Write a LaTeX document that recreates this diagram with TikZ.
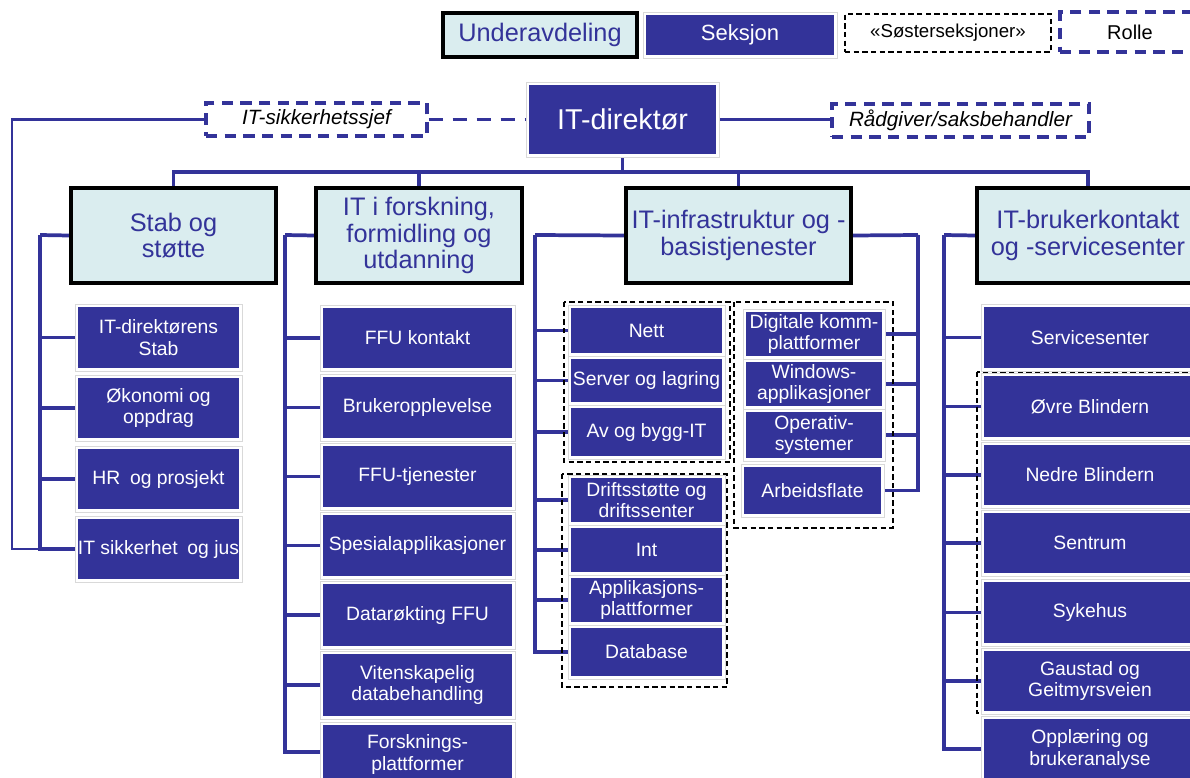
\documentclass[tikz,border=0pt]{standalone}
\usepackage{fontspec}
\setmainfont{Liberation Sans}
\definecolor{sekblue}{RGB}{51,51,153}
\definecolor{hdrfill}{RGB}{218,237,239}
\pgfdeclarelayer{bg}
\pgfdeclarelayer{mid}
\pgfsetlayers{bg,mid,main}
\tikzset{
  box/.style={inner sep=0pt, align=center, anchor=center},
  sek/.style={box, fill=white, draw=black!15, line width=0.5pt, text=white,
    font=\fontsize{14.5}{16}\selectfont,
    path picture={\fill[sekblue] ([xshift=2pt,yshift=-2pt]path picture bounding box.north west) rectangle ([xshift=-2pt,yshift=2pt]path picture bounding box.south east);}},
  hdr/.style={box, fill=hdrfill, draw=black, line width=2.8pt, text=sekblue,
    font=\fontsize{19}{19.8}\selectfont},
  role/.style={box, draw=sekblue, line width=2.6pt, dash pattern=on 8.5pt off 5.5pt,
    text=black, font=\itshape\fontsize{15.5}{18}\selectfont},
  grp/.style={draw=black, line width=1.3pt, dash pattern=on 4pt off 2.5pt},
  conn/.style={draw=sekblue, line width=2.8pt},
  thinconn/.style={draw=sekblue, line width=1.8pt},
}
\newcommand\mybox[7]{%
  \pgfmathsetmacro\myboxw{(#5-#3)*0.75}%
  \pgfmathsetmacro\myboxh{(#6-#4)*0.75}%
  \node[#1, minimum width=\myboxw pt, minimum height=\myboxh pt] (#2) at ({(#3+#5)/2},{(#4+#6)/2}) {#7};}
\begin{document}
\begin{tikzpicture}[x=0.75pt,y=-0.75pt]
\useasboundingbox (0,0) rectangle (1190,778);
\begin{pgfonlayer}{bg}
\fill[white] (0,0) rectangle (1190,778);
\end{pgfonlayer}
% legend
\mybox{hdr}{lU}{443}{13}{637}{57}{Underavdeling}
\mybox{sek, font=\fontsize{16.5}{18}\selectfont}{lS}{643}{12}{837}{58}{Seksjon}
\mybox{box, grp, font=\fontsize{14}{16}\selectfont}{lSo}{845}{14}{1051}{52}{«Søsterseksjoner»}
\mybox{role, font=\fontsize{15}{18}\selectfont}{lR}{1060}{12}{1200}{52}{Rolle}
% top
\mybox{sek, font=\fontsize{21.5}{24}\selectfont}{dir}{526}{82}{719}{157}{IT-direktør}
\mybox{role}{sik}{206}{103}{427}{136}{IT-sikkerhetssjef}
\mybox{role}{rad}{832}{104}{1089}{137}{Rådgiver/saksbehandler}
% headers
\mybox{hdr}{stab}{71}{188}{276}{283}{Stab og\\støtte}
\mybox{hdr}{forsk}{316}{188}{522}{283}{IT i forskning,\\formidling og\\utdanning}
\mybox{hdr}{infra}{626}{188}{851}{283}{IT-infrastruktur og -\\basistjenester}
\mybox{hdr}{bruk}{977}{188}{1199}{283}{IT-brukerkontakt\\og -servicesenter}
% stab
\mybox{sek}{s1}{75}{304}{242}{371}{IT-direktørens\\Stab}
\mybox{sek}{s2}{75}{375}{242}{441}{Økonomi og\\oppdrag}
\mybox{sek}{s3}{75}{446}{242}{512}{HR\enspace og prosjekt}
\mybox{sek}{s4}{75}{516}{242}{582}{IT sikkerhet\enspace og jus}
% forsk
\mybox{sek}{f1}{320}{305}{515}{371}{FFU kontakt}
\mybox{sek}{f2}{320}{374}{515}{441}{Brukeropplevelse}
\mybox{sek}{f3}{320}{443}{515}{510}{FFU-tjenester}
\mybox{sek}{f4}{320}{512}{515}{579}{Spesialapplikasjoner}
\mybox{sek}{f5}{320}{581}{515}{649}{Datarøkting FFU}
\mybox{sek}{f6}{320}{651}{515}{719}{Vitenskapelig\\databehandling}
\mybox{sek}{f7}{320}{722}{515}{787}{Forsknings-\\plattformer}
% infra left
\mybox{sek}{i1}{568}{305}{725}{356}{Nett}
\mybox{sek}{i2}{568}{356}{725}{405}{Server og lagring}
\mybox{sek}{i3}{568}{405}{725}{459}{Av og bygg-IT}
\mybox{sek}{i4}{568}{475}{725}{525}{Driftsstøtte og\\driftssenter}
\mybox{sek}{i5}{568}{525}{725}{575}{Int}
\mybox{sek}{i6}{568}{575}{725}{625}{Applikasjons-\\plattformer}
\mybox{sek}{i7}{568}{625}{725}{679}{Database}
% infra right
\mybox{sek}{r1}{743}{309}{885}{359}{Digitale komm-\\plattformer}
\mybox{sek}{r2}{743}{359}{885}{409}{Windows-\\applikasjoner}
\mybox{sek}{r3}{743}{409}{885}{461}{Operativ-\\systemer}
\mybox{sek}{r4}{741}{464}{884}{517}{Arbeidsflate}
% bruker
\mybox{sek}{b1}{981}{304}{1199}{371}{Servicesenter}
\mybox{sek}{b2}{981}{373}{1199}{440}{Øvre Blindern}
\mybox{sek}{b3}{981}{442}{1199}{508}{Nedre Blindern}
\mybox{sek}{b4}{981}{510}{1199}{576}{Sentrum}
\mybox{sek}{b5}{981}{579}{1199}{646}{Sykehus}
\mybox{sek}{b6}{981}{648}{1199}{714}{Gaustad og\\Geitmyrsveien}
\mybox{sek}{b7}{981}{716}{1199}{783}{Opplæring og\\brukeranalyse}
% groups
\begin{pgfonlayer}{mid}
\draw[grp] (564,302) rectangle (730,462);
\draw[grp] (562,474) rectangle (727,687);
\draw[grp] (734,302) rectangle (893,528);
\draw[grp] (977,372) rectangle (1205,713);
\end{pgfonlayer}
% connectors
\begin{pgfonlayer}{bg}
\draw[conn] (dir.south) -- (dir.south |- 0,172);
\draw[conn] (stab.north) -- (stab.north |- 0,172) -- (bruk.north |- 0,172) -- (bruk.north);
\draw[conn] (forsk.north) -- (forsk.north |- 0,172);
\draw[conn] (infra.north) -- (infra.north |- 0,172);
\coordinate (lc) at (12,549);
\draw[thinconn] (sik.west) -| (lc) -- (s4.west);
\draw[conn, dash pattern=on 11pt off 7pt] (sik.east) -- (dir.west);
\draw[thinconn] (dir.east) -- (dir.east -| rad.west);
\coordinate (sbus) at (40,235);
\draw[conn] (stab.west) -- (sbus);
\foreach \n in {s1,s2,s3,s4} \draw[conn] (\n.west) -| (sbus);
\coordinate (fbus) at (285,235);
\draw[conn] (forsk.west) -- (fbus);
\foreach \n in {f1,f2,f3,f4,f5,f6} \draw[conn] (\n.west) -| (fbus);
\draw[conn] (f7.west |- 0,752) -| (fbus);
\coordinate (ibus) at (535,235);
\draw[conn] (infra.west) -- (ibus);
\foreach \n in {i1,i2,i3,i4,i5,i6,i7} \draw[conn] (\n.west) -| (ibus);
\coordinate (rbus) at (918,235);
\draw[conn] (infra.east) -- (rbus);
\foreach \n in {r1,r2,r3,r4} \draw[conn] (\n.east) -| (rbus);
\coordinate (bbus) at (944,235);
\draw[conn] (bruk.west) -- (bbus);
\foreach \n in {b1,b2,b3,b4,b5,b6} \draw[conn] (\n.west) -| (bbus);
\draw[conn] (b7.west |- 0,749) -| (bbus);
\end{pgfonlayer}
\end{tikzpicture}
\end{document}
